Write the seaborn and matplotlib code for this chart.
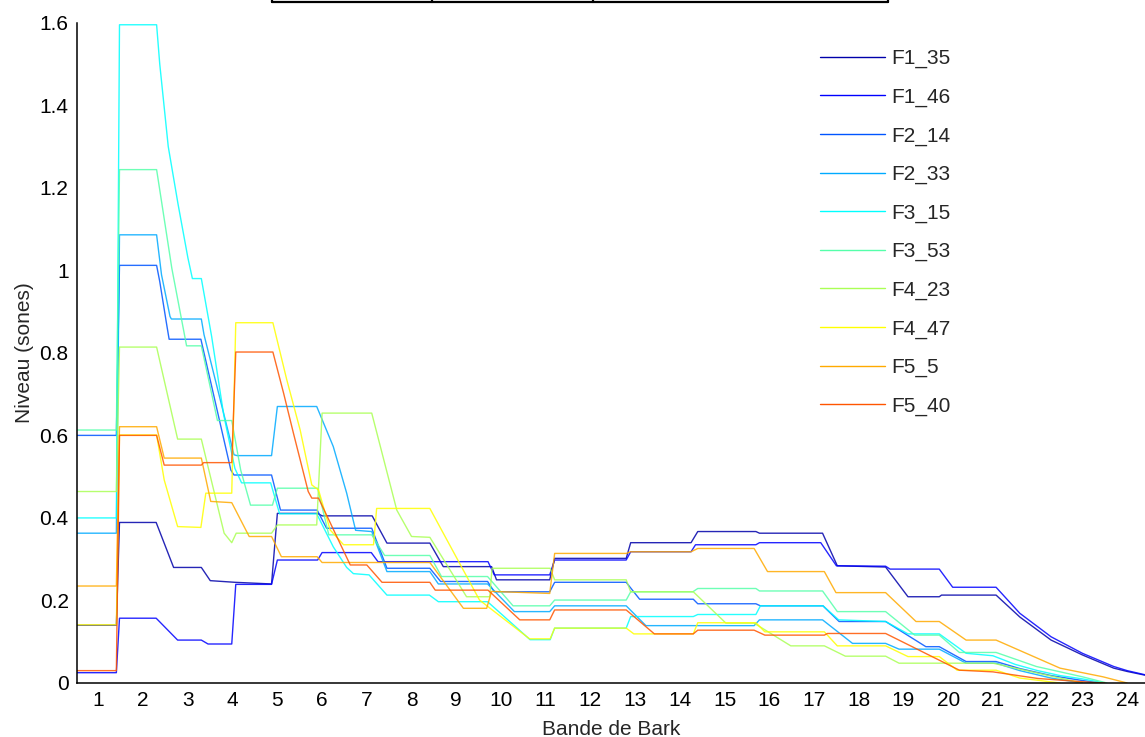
import numpy as np
import pandas as pd
import matplotlib
matplotlib.use("Agg")
import matplotlib.pyplot as plt
from matplotlib.lines import Line2D
from matplotlib.ticker import FuncFormatter
import seaborn as sns

# ---------------- data (breakpoints) ----------------
series_names = ["F1_35", "F1_46", "F2_14", "F2_33", "F3_15",
                "F3_53", "F4_23", "F4_47", "F5_5", "F5_40"]

f1_35_x = [0.52, 1.40, 1.47, 2.29, 2.68, 3.30, 3.50, 4.05, 4.87, 5.00, 5.90, 6.00, 7.12, 7.45, 8.41, 8.71, 9.79, 9.90,
           11.09, 11.20, 12.80, 12.90, 14.25, 14.40, 15.70, 15.78, 17.19, 17.52, 18.60, 19.10, 19.80, 19.85, 21.07,
           21.60, 22.30, 23.00, 23.70, 24.00, 24.40]
f1_35_y = [0.14, 0.14, 0.389, 0.389, 0.28, 0.28, 0.248, 0.244, 0.24, 0.411, 0.411, 0.405, 0.405, 0.339, 0.339, 0.282,
           0.282, 0.25, 0.25, 0.302, 0.302, 0.34, 0.34, 0.367, 0.367, 0.363, 0.363, 0.284, 0.281, 0.209, 0.209, 0.213,
           0.213, 0.16, 0.104, 0.068, 0.036, 0.028, 0.019]

f1_46_x = [0.52, 1.40, 1.47, 2.29, 2.77, 3.30, 3.45, 3.98, 4.07, 4.87, 5.00, 5.90, 6.00, 7.10, 7.25, 9.71, 9.85, 11.09,
           11.20, 12.80, 12.90, 14.25, 14.35, 15.70, 15.78, 17.15, 17.50, 18.60, 18.70, 19.80, 20.10, 21.07, 21.60,
           22.30, 23.00, 23.70, 24.00, 24.40]
f1_46_y = [0.025, 0.025, 0.157, 0.157, 0.104, 0.104, 0.0945, 0.0945, 0.239, 0.239, 0.298, 0.298, 0.316, 0.316, 0.294,
           0.294, 0.262, 0.262, 0.298, 0.298, 0.318, 0.318, 0.335, 0.335, 0.34, 0.34, 0.284, 0.283, 0.276, 0.276, 0.232,
           0.232, 0.169, 0.112, 0.072, 0.04, 0.03, 0.02]

f2_14_x = [0.52, 1.40, 1.47, 2.30, 2.37, 2.52, 2.58, 3.29, 3.96, 4.03, 4.87, 5.07, 5.89, 6.10, 7.11, 7.45, 8.41, 8.65,
           9.70, 9.85, 11.09, 11.20, 12.80, 13.10, 14.30, 14.40, 15.70, 15.80, 17.20, 17.56, 18.60, 19.50, 19.80,
           20.40, 21.07, 21.60, 22.30, 23.00, 23.40]
f2_14_y = [0.60, 0.60, 1.012, 1.012, 0.973, 0.872, 0.833, 0.833, 0.516, 0.504, 0.504, 0.419, 0.419, 0.375, 0.375,
           0.278, 0.278, 0.246, 0.246, 0.221, 0.221, 0.244, 0.244, 0.203, 0.203, 0.192, 0.192, 0.187, 0.187, 0.149,
           0.149, 0.088, 0.088, 0.052, 0.052, 0.035, 0.018, 0.006, 0.0]

f2_33_x = [0.52, 1.40, 1.47, 2.30, 2.41, 2.60, 2.63, 3.30, 3.36, 4.03, 4.10, 4.87, 5.00, 5.88, 6.25, 6.55, 6.75, 7.11,
           7.45, 8.41, 8.60, 9.70, 10.30, 11.09, 11.20, 12.80, 13.24, 15.66, 15.78, 17.19, 17.86, 18.60, 18.90, 19.80,
           20.40, 21.07, 21.60, 22.30, 23.00]
f2_33_y = [0.363, 0.363, 1.086, 1.086, 0.989, 0.888, 0.882, 0.882, 0.844, 0.553, 0.551, 0.551, 0.67, 0.67, 0.573,
           0.46, 0.37, 0.367, 0.27, 0.27, 0.24, 0.24, 0.173, 0.173, 0.187, 0.187, 0.139, 0.139, 0.153, 0.153, 0.096,
           0.096, 0.082, 0.082, 0.048, 0.048, 0.03, 0.012, 0.0]

f3_15_x = [0.52, 1.40, 1.47, 2.30, 2.37, 2.56, 2.78, 3.00, 3.10, 3.30, 3.53, 3.80, 4.05, 4.20, 4.85, 5.05, 5.88, 6.25,
           6.55, 6.70, 7.05, 7.45, 8.40, 8.60, 9.70, 10.65, 11.10, 11.20, 12.80, 12.90, 14.30, 14.40, 15.70, 15.80,
           17.20, 17.55, 18.60, 19.10, 19.80, 20.40, 21.00, 21.50, 22.00, 22.50, 23.00, 23.50]
f3_15_y = [0.40, 0.40, 1.595, 1.595, 1.50, 1.30, 1.16, 1.03, 0.98, 0.98, 0.84, 0.65, 0.52, 0.485, 0.485, 0.41, 0.41,
           0.33, 0.28, 0.265, 0.262, 0.213, 0.213, 0.197, 0.197, 0.105, 0.105, 0.133, 0.133, 0.161, 0.161, 0.166,
           0.166, 0.187, 0.187, 0.153, 0.149, 0.119, 0.119, 0.072, 0.066, 0.045, 0.03, 0.018, 0.01, 0.0]

f3_53_x = [0.52, 1.40, 1.47, 2.30, 2.41, 2.64, 2.97, 3.30, 3.66, 3.98, 4.18, 4.40, 4.89, 5.00, 5.90, 6.15, 7.11, 7.40,
           8.41, 8.67, 9.70, 10.27, 11.09, 11.20, 12.80, 12.90, 14.29, 14.40, 15.70, 15.78, 17.19, 17.52, 18.60, 19.25,
           19.80, 20.25, 21.07, 21.97, 23.00, 23.55]
f3_53_y = [0.613, 0.613, 1.244, 1.244, 1.167, 1.005, 0.817, 0.817, 0.636, 0.636, 0.516, 0.431, 0.431, 0.472, 0.472,
           0.359, 0.359, 0.309, 0.309, 0.258, 0.258, 0.187, 0.187, 0.201, 0.201, 0.221, 0.221, 0.229, 0.229, 0.223,
           0.223, 0.173, 0.173, 0.116, 0.116, 0.074, 0.074, 0.04, 0.015, 0.0]

f4_23_x = [0.52, 1.40, 1.47, 2.30, 2.77, 3.30, 3.81, 3.98, 4.08, 4.87, 5.00, 5.88, 6.00, 7.11, 7.67, 8.00, 8.41, 9.23,
           9.75, 9.80, 11.10, 11.20, 12.80, 12.90, 14.30, 15.03, 15.66, 16.48, 17.23, 17.70, 18.60, 18.90, 21.00, 23.00]
f4_23_y = [0.464, 0.464, 0.814, 0.814, 0.591, 0.591, 0.363, 0.34, 0.363, 0.363, 0.383, 0.383, 0.654, 0.654, 0.419,
           0.355, 0.353, 0.209, 0.209, 0.278, 0.278, 0.25, 0.25, 0.221, 0.221, 0.145, 0.145, 0.09, 0.09, 0.065, 0.065,
           0.048, 0.048, 0.0]

f4_47_x = [0.52, 1.40, 1.47, 2.30, 2.47, 2.77, 3.29, 3.40, 3.98, 4.07, 4.90, 5.21, 5.51, 5.77, 5.92, 6.18, 6.48, 7.15,
           7.22, 8.41, 9.52, 10.64, 11.10, 11.20, 12.80, 12.97, 14.30, 14.40, 15.70, 15.90, 17.23, 17.52, 18.60, 19.10,
           19.80, 20.20, 21.07, 21.60, 22.50]
f4_47_y = [0.141, 0.141, 0.601, 0.601, 0.492, 0.379, 0.377, 0.46, 0.46, 0.873, 0.873, 0.735, 0.613, 0.48, 0.468,
           0.371, 0.335, 0.335, 0.423, 0.423, 0.201, 0.107, 0.107, 0.133, 0.133, 0.119, 0.119, 0.146, 0.146, 0.124,
           0.124, 0.09, 0.09, 0.064, 0.064, 0.031, 0.031, 0.012, 0.0]

f5_5_x = [0.52, 1.40, 1.47, 2.30, 2.47, 3.30, 3.51, 3.98, 4.37, 4.87, 5.09, 5.89, 6.00, 8.41, 9.16, 9.68, 9.79, 11.09,
          11.20, 12.80, 12.90, 14.25, 14.40, 15.66, 15.96, 17.23, 17.49, 18.60, 19.28, 19.80, 20.40, 21.07, 22.50,
          23.46, 24.00]
f5_5_y = [0.235, 0.235, 0.621, 0.621, 0.545, 0.545, 0.44, 0.437, 0.355, 0.355, 0.306, 0.306, 0.292, 0.292, 0.181,
          0.181, 0.222, 0.217, 0.314, 0.314, 0.318, 0.318, 0.326, 0.326, 0.27, 0.27, 0.219, 0.219, 0.149, 0.149,
          0.104, 0.104, 0.036, 0.015, 0.0]

f5_40_x = [0.52, 1.40, 1.47, 2.30, 2.47, 3.30, 3.35, 3.98, 4.07, 4.90, 5.14, 5.36, 5.69, 5.77, 5.92, 6.63, 7.00, 7.34,
           8.41, 8.53, 9.71, 10.42, 11.09, 11.20, 12.80, 13.43, 14.30, 14.40, 15.66, 15.90, 17.23, 17.30, 18.60, 20.25,
           21.00, 22.00, 23.00, 23.50]
f5_40_y = [0.03, 0.03, 0.60, 0.60, 0.528, 0.528, 0.534, 0.534, 0.802, 0.802, 0.702, 0.605, 0.464, 0.448, 0.448,
           0.286, 0.286, 0.244, 0.244, 0.225, 0.225, 0.153, 0.153, 0.177, 0.177, 0.119, 0.119, 0.128, 0.128, 0.116,
           0.116, 0.12, 0.12, 0.031, 0.027, 0.011, 0.003, 0.0]

x_ticks = list(range(1, 25))
y_ticks = [0, 0.2, 0.4, 0.6, 0.8, 1.0, 1.2, 1.4, 1.6]

# ---------------- build long table ----------------
all_x = [f1_35_x, f1_46_x, f2_14_x, f2_33_x, f3_15_x, f3_53_x, f4_23_x, f4_47_x, f5_5_x, f5_40_x]
all_y = [f1_35_y, f1_46_y, f2_14_y, f2_33_y, f3_15_y, f3_53_y, f4_23_y, f4_47_y, f5_5_y, f5_40_y]
frames = []
for name, xs, ys in zip(series_names, all_x, all_y):
    frames.append(pd.DataFrame({"serie": name, "bark": xs, "sones": ys}))
df = pd.concat(frames, ignore_index=True)

# MATLAB jet(10)
jet10 = [(0, 0, 0.6667), (0, 0, 1.0), (0, 0.3333, 1.0), (0, 0.6667, 1.0), (0, 1.0, 1.0),
         (0.3333, 1.0, 0.6667), (0.6667, 1.0, 0.3333), (1.0, 1.0, 0), (1.0, 0.6667, 0), (1.0, 0.3333, 0)]
palette = dict(zip(series_names, jet10))

# ---------------- figure ----------------
sns.set_style("white")
plt.rcParams["font.family"] = ["Liberation Sans", "DejaVu Sans"]

FS = 15

fig = plt.figure(figsize=(11.45, 7.37), dpi=100)
ax = fig.add_axes([77 / 1145, 54 / 737, 1 - 77 / 1145, (683 - 22.7) / 737])

sns.lineplot(data=df, x="bark", y="sones", hue="serie", hue_order=series_names, palette=palette,
             estimator=None, sort=False, units="serie", linewidth=1.0, alpha=0.85, ax=ax, legend=False)

ax.set_xlim(0.52, 24.4)
ax.set_ylim(0, 1.6)
ax.set_xticks(x_ticks)
ax.set_yticks(y_ticks)
ax.yaxis.set_major_formatter(FuncFormatter(lambda v, p: "%g" % v))
ax.tick_params(direction="in", length=7, width=1.0, colors="#555555", labelcolor="black",
               labelsize=FS, pad=6)
for s in ["top", "right"]:
    ax.spines[s].set_visible(False)
for s in ["left", "bottom"]:
    ax.spines[s].set_color("black")
    ax.spines[s].set_linewidth(1.1)
ax.set_xlabel("Bande de Bark", fontsize=FS, labelpad=7)
ax.set_ylabel("Niveau (sones)", fontsize=FS, labelpad=4)

handles = [Line2D([0], [0], color=palette[n], lw=1.0) for n in series_names]
fig.legend(handles, series_names, loc="upper left", bbox_to_anchor=(820 / 1145, 1 - 49 / 737),
           frameon=False, fontsize=FS, handlelength=3.1, handletextpad=0.34, labelspacing=0.93,
           borderpad=0, borderaxespad=0)

# fragment of a box at the top edge
for xs_, ys_ in [([272, 888], [2, 2]), ([272, 272], [0, 2]), ([432, 432], [0, 2]),
                 ([593, 593], [0, 2]), ([888, 888], [0, 2])]:
    fig.add_artist(Line2D([v / 1145 for v in xs_], [1 - v / 737 for v in ys_],
                          transform=fig.transFigure, color="black", lw=1.6))

fig.savefig("out.png", dpi=100)
